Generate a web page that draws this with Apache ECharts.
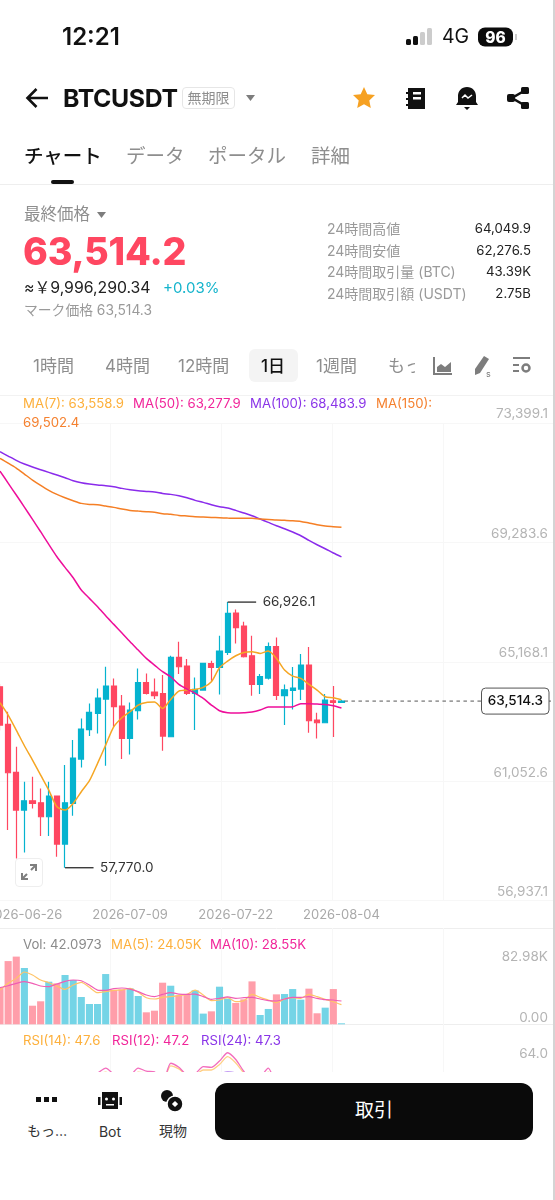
<!DOCTYPE html>
<html lang="ja"><head><meta charset="utf-8"><title>BTCUSDT</title>
<script src="https://cdn.jsdelivr.net/npm/echarts@6/dist/echarts.min.js"></script>
<style>
html,body{margin:0;padding:0;background:#fff;width:555px;height:1200px;overflow:hidden}
body{font-family:Inter,"Noto Sans CJK JP",sans-serif;color:#111;position:relative}
#chart{position:absolute;left:0;top:0;width:555px;height:1200px}
.t{position:absolute;white-space:nowrap;transform:translateY(-50%);line-height:1.2}
.g{color:#8e8e8e}
.i{position:absolute}
#footer{position:absolute;left:0;top:1072px;width:555px;height:128px;background:#fff}
#edge{position:absolute;left:553px;top:0;width:2px;height:1200px;background:#d4d4d4}
</style></head><body>
<div id="chart"></div>

<div class="t" style="left:62px;top:37px;font-size:24px;font-weight:600">12:21</div>
<svg class="i" style="left:405px;top:27px" width="30" height="20"><rect x="1" y="12" width="5" height="6" rx="1.5" fill="#111"/><rect x="8" y="9" width="5" height="9" rx="1.5" fill="#111"/><rect x="15" y="5" width="5" height="13" rx="1.5" fill="#ccc"/><rect x="22" y="1" width="5" height="17" rx="1.5" fill="#ccc"/></svg>
<div class="t" style="left:442px;top:37px;font-size:19.5px">4G</div>
<div class="t" style="left:478px;top:37px;width:35px;height:19px;background:#0b0b0b;border-radius:7px;color:#fff;font-size:15.5px;font-weight:800;text-align:center;line-height:19px">96</div>
<div class="i" style="left:515px;top:34px;width:1.5px;height:6px;background:#ccc"></div>

<svg class="i" style="left:25px;top:87px" width="24" height="22" fill="none" stroke="#111" stroke-width="2.6"><path d="M2 11H23M11.5 2 2.5 11l9 9"/></svg>
<div class="t" style="left:63px;top:99px;font-size:24.8px;font-weight:700;letter-spacing:-.35px">BTCUSDT</div>
<div class="t g" style="left:182px;top:98px;width:51px;height:20px;border:1px solid #e6e6e6;border-radius:4px;font-size:14px;text-align:center;line-height:20px">無期限</div>
<svg class="i" style="left:245px;top:94px" width="11" height="8"><path d="M1 1h9L5.5 7z" fill="#7d7d7d"/></svg>
<svg class="i" style="left:352px;top:86px" width="24" height="24"><path d="M12 1l3.3 7.2 7.7.9-5.7 5.3 1.5 7.6-6.8-3.8-6.8 3.8 1.5-7.6L1 9.1l7.7-.9z" fill="#F6A122"/></svg>
<svg class="i" style="left:404px;top:86px" width="24" height="24"><path d="M4 2h17v21H4v-3H2v-2h2v-4H2v-2h2V8H2V6h2zM9 6v2.5h8V6zM9 11v2.5h8V11z" fill="#111" fill-rule="evenodd"/></svg>
<svg class="i" style="left:455px;top:86px" width="24" height="26"><path d="M12 1c5.5 0 9 4 9 9v6l2 3H1l2-3v-6c0-5 3.500-9 9-9zM9 21h6l-3 3z" fill="#111"/><path d="M7 12l3-3 3 3 4-3" stroke="#fff" stroke-width="1.500" fill="none"/></svg>
<svg class="i" style="left:506px;top:86px" width="24" height="24"><path d="M18 5 6 12l12 7" stroke="#111" stroke-width="2.600" fill="none"/><rect x="15" y="1" width="8" height="7" rx="1.500" fill="#111"/><rect x="15" y="16" width="8" height="7" rx="1.500" fill="#111"/><rect x="1" y="8" width="8" height="8" rx="2" fill="#111"/></svg>

<div class="t" style="left:24px;top:157px;font-size:19.5px;font-weight:500">チャート</div>
<div class="t g" style="left:126px;top:157px;font-size:19.500px">データ</div>
<div class="t g" style="left:208px;top:157px;font-size:19.500px">ポータル</div>
<div class="t g" style="left:311px;top:157px;font-size:19.500px">詳細</div>
<div class="i" style="left:51px;top:180px;width:23px;height:4px;background:#111;border-radius:2px"></div>
<div class="i" style="left:0;top:183.5px;width:555px;height:1px;background:#eee"></div>

<div class="t g" style="left:24px;top:215px;font-size:16.5px">最終価格</div>
<svg class="i" style="left:96px;top:211px" width="11" height="8"><path d="M1 1h9L5.500 7z" fill="#7d7d7d"/></svg>
<div class="t" style="left:23px;top:252px;font-size:37.6px;font-weight:800;color:#FF4761;letter-spacing:-.2px">63,514.2</div>
<div class="t" style="left:24px;top:288px;font-size:15.8px;color:#222">≈￥9,996,290.34</div>
<div class="t" style="left:163px;top:288px;font-size:15px;color:#14B4CC">+0.03%</div>
<div class="t" style="left:24px;top:310px;font-size:13.8px;color:#9a9a9a">マーク価格 63,514.3</div>

<div class="t" style="left:327px;top:229px;font-size:14px;color:#9a9a9a">24時間高値</div>
<div class="t" style="left:327px;top:250.500px;font-size:14px;color:#9a9a9a">24時間安値</div>
<div class="t" style="left:327px;top:272px;font-size:14px;color:#9a9a9a">24時間取引量 (BTC)</div>
<div class="t" style="left:327px;top:293.500px;font-size:14px;color:#9a9a9a">24時間取引額 (USDT)</div>
<div class="t" style="right:24px;top:229px;font-size:13.2px;color:#222">64,049.9</div>
<div class="t" style="right:24px;top:250.500px;font-size:13.2px;color:#222">62,276.5</div>
<div class="t" style="right:24px;top:272px;font-size:13.2px;color:#222">43.39K</div>
<div class="t" style="right:24px;top:293.500px;font-size:13.2px;color:#222">2.75B</div>

<div class="i" style="left:249px;top:349px;width:49px;height:33px;background:#f4f4f4;border-radius:6px"></div>
<div class="t g" style="left:33px;top:366px;font-size:17px">1時間</div>
<div class="t g" style="left:105px;top:366px;font-size:17px">4時間</div>
<div class="t g" style="left:178px;top:366px;font-size:17px">12時間</div>
<div class="t" style="left:261px;top:366px;font-size:17px;font-weight:500">1日</div>
<div class="t g" style="left:316px;top:366px;font-size:17px">1週間</div>
<div class="t g" style="left:388px;top:366px;font-size:17px;width:27px;overflow:hidden">もっと</div>
<svg class="i" style="left:433px;top:356px" width="20" height="20"><path d="M1 1v17h18" stroke="#7d7d7d" stroke-width="2" fill="none"/><path d="M4 16v-5l4-3 4 3 6-5v10z" fill="#7d7d7d"/></svg>
<svg class="i" style="left:471px;top:354px" width="22" height="24"><path d="M13 2l5 3-9 14-5 2 0-6z" fill="#7d7d7d"/><text x="15" y="23" font-size="9" font-family="Inter" fill="#7d7d7d">s</text></svg>
<svg class="i" style="left:512px;top:356px" width="20" height="20"><path d="M1 2h17M1 9h6M1 15h6" stroke="#7d7d7d" stroke-width="2" fill="none"/><circle cx="14" cy="12" r="3.500" stroke="#7d7d7d" stroke-width="2.500" fill="none"/></svg>
<div class="i" style="left:0;top:395px;width:555px;height:1px;background:#f2f2f2"></div>

<div class="i" style="left:15px;top:858px;width:26px;height:27px;border:1px solid #eee;border-radius:4px;background:#fff"></div>
<svg class="i" style="left:20px;top:863px" width="18" height="18" fill="none" stroke="#7f7f7f" stroke-width="2"><path d="M2 16 7 11M11 7l5-5"/><path d="M2 10v6h6M10 2h6v6" /></svg>

<div id="footer"></div>
<svg class="i" style="left:35px;top:1096px" width="24" height="8"><rect x="1" y="1" width="5" height="5" fill="#111"/><rect x="9" y="1" width="5" height="5" fill="#111"/><rect x="17" y="1" width="5" height="5" fill="#111"/></svg>
<div class="t" style="left:27px;top:1131px;font-size:14px;color:#333">もっ…</div>
<svg class="i" style="left:97px;top:1091px" width="26" height="20"><rect x="5" y="1" width="16" height="17" fill="#111"/><rect x="1" y="6" width="2.500" height="8" fill="#111"/><rect x="22.500" y="6" width="2.500" height="8" fill="#111"/><circle cx="9.500" cy="8" r="1.500" fill="#fff"/><circle cx="16.500" cy="8" r="1.500" fill="#fff"/><rect x="9" y="13" width="8" height="1.500" fill="#fff"/></svg>
<div class="t" style="left:110px;top:1132px;font-size:14px;color:#333;transform:translate(-50%,-50%)">Bot</div>
<svg class="i" style="left:160px;top:1089px" width="24" height="24"><circle cx="7" cy="7" r="6" fill="#111"/><circle cx="15" cy="15" r="8" fill="#111" stroke="#fff" stroke-width="1.500"/><rect x="12.800" y="12.800" width="4.400" height="4.400" transform="rotate(45 15 15)" fill="#fff"/></svg>
<div class="t" style="left:159px;top:1131px;font-size:14px;color:#333">現物</div>
<div class="i" style="left:215px;top:1083px;width:318px;height:57px;background:#0a0a0a;border-radius:12px"></div>
<div class="t" style="left:374px;top:1111px;color:#fff;font-size:19px;transform:translate(-50%,-50%)">取引</div>
<div id="edge"></div>

<script>
const categories = [
  '2026-06-23','2026-06-24','2026-06-25','2026-06-26','2026-06-27','2026-06-28','2026-06-29','2026-06-30',
  '2026-07-01','2026-07-02','2026-07-03','2026-07-04','2026-07-05','2026-07-06','2026-07-07','2026-07-08',
  '2026-07-09','2026-07-10','2026-07-11','2026-07-12','2026-07-13','2026-07-14','2026-07-15','2026-07-16',
  '2026-07-17','2026-07-18','2026-07-19','2026-07-20','2026-07-21','2026-07-22','2026-07-23','2026-07-24',
  '2026-07-25','2026-07-26','2026-07-27','2026-07-28','2026-07-29','2026-07-30','2026-07-31','2026-08-01',
  '2026-08-02','2026-08-03','2026-08-04'];
const dateTicks = ['2026-06-26','2026-07-09','2026-07-22','2026-08-04'];
const priceTicks = ['56,937.1','61,052.6','65,168.1','69,283.6','73,399.1'];

const opens  = [64009,62711,61056,59758,60079,60010,59528,60240,58585,59987,61516,62527,63090,63584,64032,63343,62228,63182,64147,63825,63768,62285,65020,64721,63779,63894,64802,64675,65192,66548,66100,65077,64089,64308,65388,63699,63883,63928,64756,62860,62768,63526,63469];
const closes = [62688,61044,59758,60079,59987,59528,60240,58585,60010,61550,62550,63124,63618,64032,63320,62228,63205,64147,63779,63699,62308,65020,64698,63779,63917,64813,64675,65238,66537,66043,65043,64089,64354,65388,63710,63905,63963,64756,62837,62768,63549,63469,63514];
const lows   = [62500,59068,58092,58298,59815,58861,58861,58149,57770,59562,61228,62308,62400,61286,62630,61516,61677,62883,63745,63584,61803,62285,64446,63722,62515,63871,64216,63745,65100,65503,65020,63699,63756,64262,63549,62688,63228,63549,62423,62228,62768,62274,63457];
const highs  = [64100,63147,61941,60734,60907,60505,60734,60240,61309,62170,62917,63434,63951,64698,64296,63722,63469,64641,64469,64296,64411,65077,65560,64963,64331,64813,64905,65767,66926,66675,66249,65767,64446,65537,65709,64089,64687,65135,65376,63113,63756,64032,63549];

const ma7   = [63457,63032,62515,61975,61481,60964,60447,59872,59758,59987,60390,60769,61366,61998,62630,62940,63147,63377,63469,63480,63262,63572,63860,63894,63917,63986,64181,64664,64894,65077,65192,65215,65158,65238,64985,64583,64377,64296,64089,63894,63664,63630,63559];
const ma50  = [71443,71029,70616,70202,69777,69352,68915,68490,68122,67766,67341,67054,66767,66456,66158,65859,65560,65273,64985,64756,64526,64354,64089,63928,63779,63607,63377,63182,63113,63101,63113,63136,63205,63308,63308,63308,63320,63423,63423,63411,63400,63354,63278];
const ma100 = [72110,71960,71811,71685,71581,71489,71397,71305,71213,71110,71041,70995,70961,70938,70903,70846,70800,70765,70742,70719,70673,70639,70593,70524,70432,70363,70283,70214,70168,70087,69995,69904,69789,69674,69559,69455,69341,69214,69053,68904,68766,68617,68484];
const ma150 = [71880,71719,71547,71340,71133,70949,70777,70639,70524,70421,70329,70294,70283,70237,70191,70133,70087,70064,70042,70019,69973,69950,69915,69892,69869,69858,69846,69835,69823,69812,69812,69812,69789,69777,69754,69743,69731,69708,69651,69593,69547,69524,69502];

const volumes = [45.3,77.5,82.98,69.0,22.8,28.2,52.2,50.2,60.4,54.3,33.5,24.9,24.9,61.6,42.0,42.8,44.1,34.7,14.7,16.7,51.0,47.3,35.5,37.1,41.6,13.1,15.9,46.1,31.4,26.1,30.6,52.6,11.4,18.8,36.7,37.1,43.2,30.2,43.7,13.5,20.4,43.2,0.042];
const volMa5  = [42.0,50.2,56.3,64.1,60.4,54.3,51.0,46.9,42.8,48.1,51.4,45.3,38.8,40.0,41.6,42.0,44.1,39.2,32.6,31.0,33.0,33.9,35.1,36.7,42.0,35.9,29.0,29.8,32.6,27.7,29.0,36.7,33.0,29.8,26.5,31.0,32.6,31.8,36.7,33.9,30.6,27.7,24.05];
const volMa10 = [44.9,47.3,50.2,52.2,50.2,46.9,46.1,49.4,52.6,54.3,53.4,48.1,42.0,41.6,43.7,44.5,43.2,40.0,35.9,33.9,36.7,38.8,37.1,36.7,37.1,33.9,30.6,31.8,33.5,31.8,32.6,33.0,31.0,29.0,28.55,31.0,33.0,33.0,33.9,31.8,30.2,29.8,28.55];

const rsi12 = [44,38,34,36,35.5,34,37,32,38,44,47,49,51,54.3,50,46,49,54.3,52.2,51.7,44,57.5,54.8,50,50.5,55.2,54.8,59,64.5,60,52,46,48,54.3,45,46,46.5,50,42,42,46,46,47.2];
const rsi14 = [44,39,35,37,36,35,37.5,33,38.5,43,46,48,50,51.5,49,46,48,51.5,51,50.5,45,55.7,53.7,50,50,53,53,56.7,61.9,57.7,51,46.5,48,51.5,45.5,46,46.5,49,43,43,46,46.5,47.6];
const rsi24 = [43,40,38,39,38.5,38,39,37,39.5,42,44,45,46,47.5,46.5,45,46,47.5,47,47,45,49.5,49,48,48,49.5,49.5,50.5,51.7,51,49,47,47.5,49,46.5,47,47,48,46,46,47,47,47.3];

const highMark = 66926.1, lowMark = 57770.0, lastPrice = 63514.3;
const highIndex = 28, lowIndex = 8, lastIndex = 42;
const priceLegend = ['MA(7): 63,558.9','MA(50): 63,277.9','MA(100): 68,483.9','MA(150):','69,502.4'];
const volLegend = ['Vol: 42.0973','MA(5): 24.05K','MA(10): 28.55K'];
const rsiLegend = ['RSI(14): 47.6','RSI(12): 47.2','RSI(24): 47.3'];

const RED='#FF4761', BLUE='#05B3CF', PALE_RED='#FF9EAA', PALE_BLUE='#74D4E6';
const ORANGE='#F5A623', MAGENTA='#EE0E9A', PURPLE='#8A2BEB', DEEP='#F57F25';
const LEG_O='#FDB03C', LEG_M='#F1259A', LEG_P='#8A35E8', LEG_D='#F5812F';
const FONT='Inter,"Noto Sans CJK JP",sans-serif';
const BAND=8.13, COUNT=69, GRID_LEFT=-BAND/2, GRID_W=BAND*COUNT;

const slots = categories.concat(new Array(COUNT-categories.length).fill(''));
const gridOf = (top,height)=>({left:GRID_LEFT,width:GRID_W,top,height,outerBoundsMode:'none',containLabel:false});
const catAxis = (gridIndex,showLabels)=>({
  type:'category',gridIndex,data:slots,boundaryGap:true,
  axisLine:{show:false},axisTick:{show:false},splitLine:{show:false},
  axisLabel:{show:showLabels,margin:17,color:'#a9a9a9',fontSize:13,fontFamily:FONT,hideOverlap:false,
    interval:(i,v)=>dateTicks.includes(v),formatter:v=>v}
});
const bgX = g=>({type:'value',gridIndex:g,min:0,max:5,interval:1,axisLabel:{show:false},axisLine:{show:false},axisTick:{show:false},splitLine:{show:true,lineStyle:{color:'#f7f7f7',width:1}}});
const line=(name,data,x,y,color,width,z)=>({name,type:'line',data,xAxisIndex:x,yAxisIndex:y,showSymbol:false,smooth:.25,z:z||4,lineStyle:{color,width},itemStyle:{color},silent:true});

const candleData = opens.map((o,i)=>[o,closes[i],lows[i],highs[i]]);

const markRender=(params,api)=>{
  const kind=params.dataIndex, W=api.getWidth();
  const p=api.coord([api.value(0),api.value(1)]);
  if(kind<2){
    const txt=(kind===0?highMark:lowMark).toLocaleString('en-US',{minimumFractionDigits:1});
    return {type:'group',children:[
      {type:'line',shape:{x1:p[0],y1:p[1],x2:p[0]+28.5,y2:p[1]},style:{stroke:'#2b2b2b',lineWidth:1.3}},
      {type:'text',style:{x:p[0]+35,y:p[1],text:txt,fill:'#333',font:'13.5px '+FONT,verticalAlign:'middle'}}
    ]};
  }
  const txt=lastPrice.toLocaleString('en-US',{minimumFractionDigits:1});
  return {type:'group',children:[
    {type:'line',shape:{x1:p[0]+3,y1:p[1],x2:W-2,y2:p[1]},style:{stroke:'#555',lineWidth:1,lineDash:[3.5,3.5]}},
    {type:'rect',shape:{x:W-73.5,y:p[1]-13,width:67.500,height:26,r:4},style:{fill:'#fff',stroke:'#555',lineWidth:1}},
    {type:'text',style:{x:W-39.7,y:p[1],text:txt,fill:'#111',font:'500 13.5px '+FONT,align:'center',verticalAlign:'middle'}}
  ]};
};

const legendText=(text,x,y,fill)=>({type:'text',x,y,silent:true,z:20,style:{text,fill,font:'13.2px '+FONT,verticalAlign:'middle'}});

const chart=echarts.init(document.getElementById('chart'),null,{renderer:'canvas'});
chart.setOption({
  animation:false,backgroundColor:'transparent',
  grid:[gridOf(414.3,477.6),gridOf(956.6,67.7),gridOf(1041.5,84),
    {left:-1,width:555,top:423,height:477.7,outerBoundsMode:'none'},{left:-1,width:555,top:928,height:144,outerBoundsMode:'none'}],
  xAxis:[catAxis(0,true),catAxis(1,false),catAxis(2,false),bgX(3),bgX(4)],
  yAxis:[
    {type:'value',gridIndex:0,position:'right',min:56937.1,max:73399.1,interval:4115.5,splitLine:{show:false},axisLine:{show:false},axisTick:{show:false},
     axisLabel:{inside:true,margin:9,color:'#b4b4b4',fontSize:13.5,fontFamily:FONT,showMinLabel:true,showMaxLabel:true,formatter:(v,i)=>priceTicks[i]}},
    {type:'value',gridIndex:1,position:'right',min:0,max:82.98,interval:82.98,splitLine:{show:false},axisLine:{show:false},axisTick:{show:false},
     axisLabel:{inside:true,margin:9,color:'#b4b4b4',fontSize:13.5,fontFamily:FONT,verticalAlignMinLabel:'bottom',formatter:v=>v===0?'0.00':'82.98K'}},
    {type:'value',gridIndex:2,position:'right',min:16,max:72,interval:8,splitLine:{show:false},axisLine:{show:false},axisTick:{show:false},
     axisLabel:{inside:true,margin:9,color:'#b4b4b4',fontSize:13.5,fontFamily:FONT,formatter:v=>v===64?'64.0':''}},
    {type:'value',gridIndex:3,min:0,max:4,interval:1,inverse:true,axisLabel:{show:false},axisLine:{show:false},axisTick:{show:false},splitLine:{show:true,lineStyle:{color:'#f7f7f7'}}},
    {type:'value',gridIndex:4,min:0,max:1.5,interval:1,inverse:true,axisLabel:{show:false},axisLine:{show:false},axisTick:{show:false},splitLine:{show:true,lineStyle:{color:'#eeeeee'}}}
  ],
  series:[
    {type:'candlestick',name:'BTCUSDT',data:candleData,xAxisIndex:0,yAxisIndex:0,barWidth:5.6,z:3,silent:true,
     itemStyle:{color:BLUE,color0:RED,borderColor:BLUE,borderColor0:RED,borderWidth:1.2}},
    line('MA(7)',ma7,0,0,ORANGE,1.5,5),
    line('MA(50)',ma50,0,0,MAGENTA,1.5,5),
    line('MA(100)',ma100,0,0,PURPLE,1.5),
    line('MA(150)',ma150,0,0,DEEP,1.5),
    {type:'custom',name:'marks',xAxisIndex:0,yAxisIndex:0,z:6,silent:true,renderItem:markRender,
     encode:{x:0,y:1},data:[[highIndex,highMark],[lowIndex,lowMark],[lastIndex,lastPrice]]},
    {type:'bar',name:'Vol',data:volumes.map((v,i)=>({value:v,itemStyle:{color:closes[i]>=opens[i]?PALE_BLUE:PALE_RED}})),xAxisIndex:1,yAxisIndex:1,barWidth:7.1,barMinHeight:1,z:3,silent:true},
    line('MA(5)',volMa5,1,1,'#FFC468',1.2),
    line('MA(10)',volMa10,1,1,'#F05DB4',1.2),
    line('RSI(14)',rsi14,2,2,'#FFCF85',1.3),
    line('RSI(12)',rsi12,2,2,'#F36DBD',1.3),
    line('RSI(24)',rsi24,2,2,'#B07CF0',1.3)
  ],
  graphic:[
    legendText(priceLegend[0],23,404,LEG_O),
    legendText(priceLegend[1],133,404,LEG_M),
    legendText(priceLegend[2],250,404,LEG_P),
    legendText(priceLegend[3],376,404,LEG_D),
    legendText(priceLegend[4],23,423,LEG_D),
    legendText(volLegend[0],23,945,'#8a8a8a'),
    legendText(volLegend[1],111,945,LEG_O),
    legendText(volLegend[2],210,945,LEG_M),
    legendText(rsiLegend[0],23,1041,LEG_O),
    legendText(rsiLegend[1],112,1041,LEG_M),
    legendText(rsiLegend[2],201,1041,LEG_P)
  ]
});
</script>
</body></html>
